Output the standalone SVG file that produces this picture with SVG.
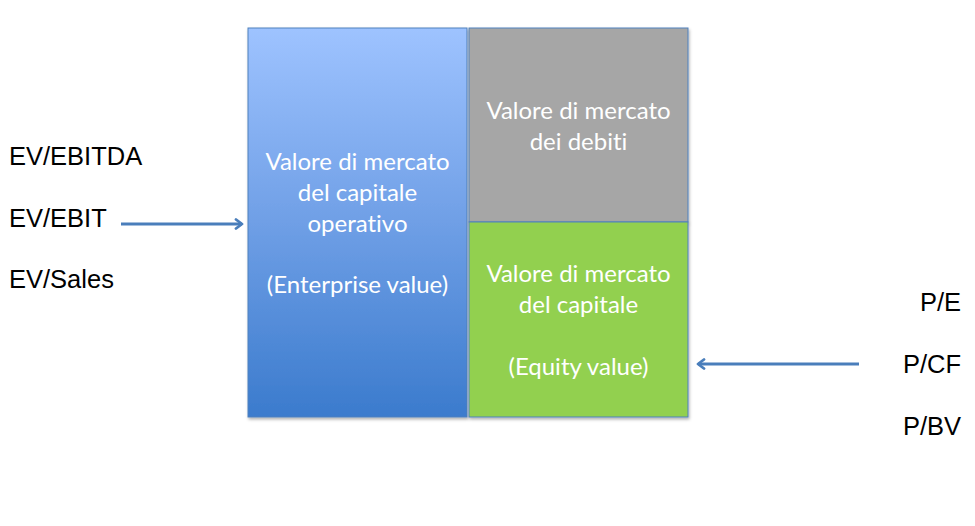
<svg xmlns="http://www.w3.org/2000/svg" width="975" height="526" viewBox="0 0 975 526">
<style>
.box{stroke:#4f81bd;stroke-width:1}
.bt{font-family:Lato,"Open Sans",sans-serif;font-size:24px;fill:#ffffff;text-anchor:middle;font-variant-ligatures:none}
.lab{font-family:"Liberation Sans",Arial,sans-serif;font-size:25.5px;fill:#000000}
.conn{stroke:#4a7ebb;stroke-width:2.8;fill:none;marker-end:url(#ah)}
</style>
<defs>
<linearGradient id="g1" x1="0" y1="0" x2="0" y2="1">
<stop offset="0" stop-color="#9ec3ff"/>
<stop offset="0.5" stop-color="#6f9fe6"/>
<stop offset="1" stop-color="#3b7bcd"/>
</linearGradient>
<marker id="ah" markerWidth="12" markerHeight="12" refX="8" refY="6" orient="auto" markerUnits="userSpaceOnUse">
<path d="M2,1.5 L8,6 L2,10.5" fill="none" stroke="#4a7ebb" stroke-width="2.8" stroke-linecap="round" stroke-linejoin="round"/>
</marker>
<filter id="sh" x="-5%" y="-5%" width="110%" height="110%">
<feDropShadow dx="1" dy="2" stdDeviation="1.5" flood-color="#000" flood-opacity="0.3"/>
</filter>
</defs>
<g id="ev-box">
<rect class="box" x="248" y="28" width="219" height="389" fill="url(#g1)" filter="url(#sh)"/>
<text class="bt" x="357.5" y="170">Valore di mercato</text>
<text class="bt" x="357.5" y="201">del capitale</text>
<text class="bt" x="357.5" y="232">operativo</text>
<text class="bt" x="357.5" y="293">(Enterprise value)</text>
</g>
<g id="debt-box">
<rect class="box" x="469" y="28" width="219" height="194" fill="#a6a6a6" filter="url(#sh)"/>
<text class="bt" x="578.5" y="119">Valore di mercato</text>
<text class="bt" x="578.5" y="150">dei debiti</text>
</g>
<g id="equity-box">
<rect class="box" x="469" y="222" width="219" height="195" fill="#92d050" filter="url(#sh)"/>
<text class="bt" x="578.5" y="282">Valore di mercato</text>
<text class="bt" x="578.5" y="313">del capitale</text>
<text class="bt" x="578.5" y="375">(Equity value)</text>
</g>
<g id="ev-multiples">
<text class="lab" x="9" y="165">EV/EBITDA</text>
<text class="lab" x="9" y="227">EV/EBIT</text>
<text class="lab" x="9" y="288">EV/Sales</text>
</g>
<g id="p-multiples">
<text class="lab" x="961" y="311" text-anchor="end">P/E</text>
<text class="lab" x="961" y="373" text-anchor="end">P/CF</text>
<text class="lab" x="961" y="435" text-anchor="end">P/BV</text>
</g>
<g id="connectors">
<line class="conn" x1="121" y1="224" x2="242" y2="224"/>
<line class="conn" x1="859" y1="364" x2="698" y2="364"/>
</g>
</svg>
